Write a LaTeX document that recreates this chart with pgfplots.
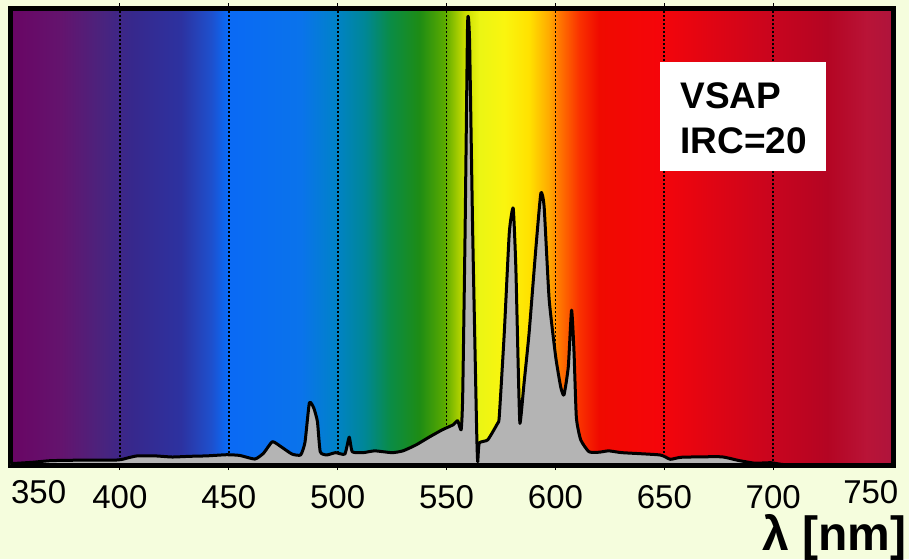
\documentclass[border=0pt]{standalone}
\usepackage{fontspec}
\setmainfont{Liberation Sans}
\usepackage{pgfplots}
\pgfplotsset{compat=1.18}
\definecolor{bg}{RGB}{245,253,221}
\definecolor{fillgray}{RGB}{180,180,180}
\pgfdeclarehorizontalshading{spectrum}{100bp}{%
rgb(0bp)=(0.412,0.020,0.392);
rgb(25bp)=(0.412,0.020,0.392);
rgb(27.84bp)=(0.392,0.078,0.431);
rgb(30.06bp)=(0.294,0.137,0.490);
rgb(31.79bp)=(0.216,0.157,0.549);
rgb(34.63bp)=(0.176,0.196,0.627);
rgb(36.36bp)=(0.118,0.314,0.804);
rgb(37.22bp)=(0.039,0.412,0.961);
rgb(41.42bp)=(0.039,0.451,0.922);
rgb(43.40bp)=(0.000,0.510,0.784);
rgb(45.06bp)=(0.000,0.529,0.588);
rgb(46.48bp)=(0.039,0.549,0.275);
rgb(48.16bp)=(0.118,0.549,0.078);
rgb(49.57bp)=(0.353,0.667,0.000);
rgb(50.68bp)=(0.784,0.863,0.000);
rgb(51.54bp)=(0.922,0.961,0.078);
rgb(52.96bp)=(0.980,0.961,0.059);
rgb(54.38bp)=(1.000,0.882,0.000);
rgb(55.49bp)=(1.000,0.667,0.000);
rgb(56.06bp)=(1.000,0.471,0.000);
rgb(57.20bp)=(0.980,0.196,0.000);
rgb(58.33bp)=(0.941,0.039,0.000);
rgb(61.67bp)=(0.961,0.020,0.039);
rgb(68.21bp)=(0.784,0.020,0.118);
rgb(71.30bp)=(0.706,0.020,0.137);
rgb(73.52bp)=(0.725,0.078,0.216);
rgb(75bp)=(0.686,0.078,0.235);
rgb(100bp)=(0.686,0.078,0.235)}
\pgfplotstableread{
nm y
350 0.3
360 0.6
368 0.95
380 1.05
399 1.1
404 1.6
408 2.0
416 2.0
424 1.75
432 1.9
440 2.0
449 2.25
455 2.1
462 1.3
466 2.6
470 5.1
474 4.0
479 2.4
483 2.2
485 5.0
487 13.6
489 12.5
490.7 9.5
492 2.9
495 2.2
499 2.7
503.3 2.4
505.3 6.1
506.7 2.9
511.7 2.7
517 3.1
525 2.7
530 3.1
536 4.4
542 6.1
548 7.7
553 8.8
555.1 9.7
556.7 7.7
557.4 15
558.5 50.8
559.6 95
560 98
560.6 92
562 50.8
563.8 8
564.3 0.7
565.0 4.8
568.9 5.5
573.4 9.1
574.2 10.6
576.5 28.9
578.8 50.8
580.6 56.2
581.8 43.4
582.9 21.5
583.7 9.1
585.6 18
587.9 28.9
591 47.4
593.3 59.5
594.8 56.5
597.1 36.3
600.1 23.7
602.4 17.1
603.9 15.3
605.9 21.5
607.4 33.9
608.5 25
609.6 10.4
611.6 5.5
615.4 2.9
620 2.8
624.5 3.1
630.6 2.7
648 2.2
652.7 1.25
658 1.7
676 1.8
684 1.0
691.6 0.4
699 0.5
708 0
755 0
}\spec
\begin{document}
\begin{tikzpicture}
\useasboundingbox (0,0) rectangle (454.5pt,279.5pt);
\fill[bg] (0,0) rectangle (454.5pt,279.5pt);
\begin{axis}[
  at={(5.5pt,47pt)}, anchor=south west,
  scale only axis, width=441pt, height=228.5pt,
  xmin=350, xmax=755, ymin=0, ymax=100,
  ytick=\empty,
  xtick={400,450,500,550,600,650,700},
  xticklabels={400,450,500,550,600,650,700},
  extra x ticks={362.7,744.8},
  extra x tick labels={350,750},
  extra x tick style={grid=none, major tick length=0pt},
  xmajorgrids,
  grid style={black, line width=0.9pt, dash pattern=on 0.9pt off 1.1pt},
  tick align=outside, major tick length=2.5pt,
  tick style={black, line width=0.6pt},
  xticklabel style={font=\fontsize{16.5}{16.5}\selectfont, inner sep=0pt, anchor=north, yshift=-7.5pt},
  axis line style={line width=2.5pt},
  axis background/.style={shade, shading=spectrum},
  clip=true,
]
\addplot[draw=black, line width=1.5pt, fill=fillgray, smooth, tension=0.3, line join=round] table[x=nm, y=y] {\spec} \closedcycle;
\draw[line width=2.5pt] (rel axis cs:0,0) rectangle (rel axis cs:1,1);
\end{axis}
\fill[white] (330pt,194pt) rectangle (413pt,248.5pt);
\node[anchor=base west, inner sep=0pt, font=\fontsize{18.5}{18.5}\selectfont\bfseries] at (340pt,225.35pt) {VSAP};
\node[anchor=base west, inner sep=0pt, font=\fontsize{18.5}{18.5}\selectfont\bfseries] at (340pt,202.85pt) {IRC=20};
\node[anchor=base east, inner sep=0pt, font=\fontsize{24}{24}\selectfont\bfseries] at (453.5pt,4.5pt) {λ [nm]};
\end{tikzpicture}
\end{document}
